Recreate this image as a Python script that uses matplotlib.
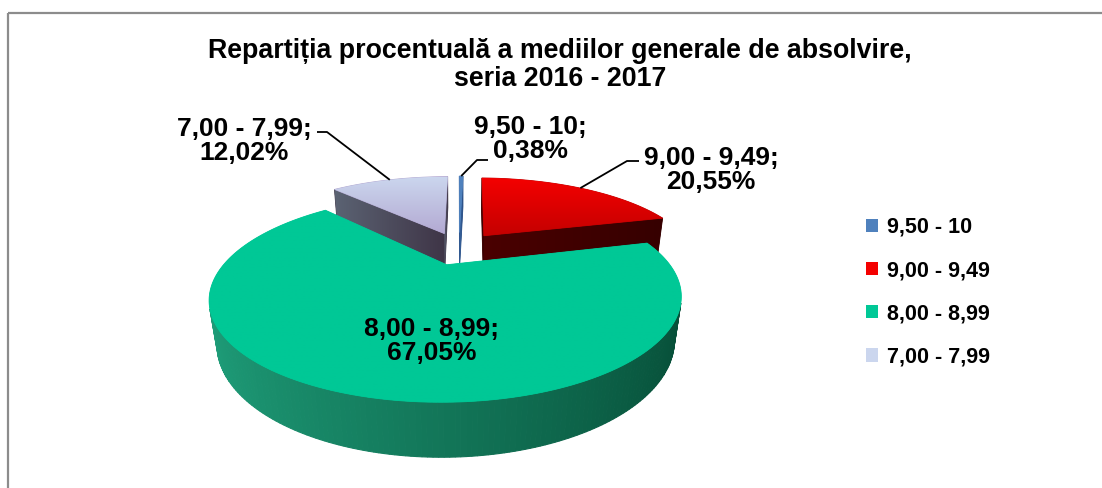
"""
Repartitia mediilor de absolvire - 3D exploded pie, redrawn with matplotlib.
"""
import numpy as np
import matplotlib.pyplot as plt
from matplotlib.patches import Polygon, Patch
from matplotlib.colors import LinearSegmentedColormap, to_rgb

plt.rcParams['font.family'] = ['Liberation Sans', 'DejaVu Sans']

# ===================
#  DATA
# ===================
ranges    = ["9,50 - 10", "9,00 - 9,49", "8,00 - 8,99", "7,00 - 7,99"]
shares    = [0.38, 20.55, 67.05, 12.02]
share_txt = ["0,38%", "20,55%", "67,05%", "12,02%"]
title     = "Repartiția procentuală a mediilor generale de absolvire,\nseria 2016 - 2017"

# top face colours (start / end of gradient), side colours (light / dark)
TOP   = ["#4F81BD", "#F40000", "#00C896", "#CBD6EE"]
TOP2  = ["#4F81BD", "#C40000", "#00C896", "#B3A9D2"]
SIDE  = ["#3A66A0", "#4A0000", "#1FA07B", "#5B6373"]
SIDE2 = ["#2A4F86", "#360000", "#064C36", "#3F3547"]

# ===================
#  3D PROJECTION
# ===================
W, H = 1102, 488
TILT = np.radians(23)
DIST = 3.0          # camera distance, in pie radii
FOC = 630.0
CX, CY = 459.0, 248.0
EXPLODE = 0.2
THICK = 0.21
SN, CS = np.sin(TILT), np.cos(TILT)
CAM = np.array([0.0, DIST * SN, -DIST * CS])


def proj(x, z, y=0.0):
    d = DIST - y * SN + z * CS
    return CX + FOC * x / d, CY - FOC * (y * CS + z * SN) / d


def grad_poly(ax, pts, c1, c2, vertical, z):
    pts = np.asarray(pts)
    x0, y0 = pts.min(0)
    x1, y1 = pts.max(0)
    poly = Polygon(pts, closed=True, fc=c2, ec=c2, lw=0.6, zorder=z)
    ax.add_patch(poly)
    if x1 - x0 < 2 or y1 - y0 < 2:
        return
    cmap = LinearSegmentedColormap.from_list("g", [c1, c2])
    g = np.linspace(0, 1, 256)
    img = g[:, None] if vertical else g[None, :]
    im = ax.imshow(img, cmap=cmap, extent=(x0, x1, y1, y0), origin="upper",
                   aspect="auto", zorder=z + 0.1, interpolation="bilinear")
    im.set_clip_path(poly)


def mix(c1, c2, u):
    a, b = np.array(to_rgb(c1)), np.array(to_rgb(c2))
    return tuple(a + (b - a) * u)


fig = plt.figure(figsize=(W / 100, H / 100), dpi=100)
ax = fig.add_axes([0, 0, 1, 1])

frac = np.array(shares) / sum(shares)
a1 = np.cumsum(frac) * 2 * np.pi      # clockwise from 12 o'clock
a0 = a1 - frac * 2 * np.pi
mid = (a0 + a1) / 2
off = [(EXPLODE * np.sin(m), EXPLODE * np.cos(m)) for m in mid]

# back slices first
order = sorted(range(len(shares)), key=lambda i: -(off[i][1] + np.cos(mid[i])))

zo = 1
for i in order:
    ox, oz = off[i]
    n = max(2, int(np.degrees(a1[i] - a0[i])))
    t = np.linspace(a0[i], a1[i], n + 1)
    rx, rz = ox + np.sin(t), oz + np.cos(t)

    # radial cut faces
    for a, nrm in ((a0[i], (-np.cos(a0[i]), np.sin(a0[i]))),
                   (a1[i], (np.cos(a1[i]), -np.sin(a1[i])))):
        P = np.array([ox + 0.5 * np.sin(a), -THICK / 2, oz + 0.5 * np.cos(a)])
        v = CAM - P
        if v[0] * nrm[0] + v[2] * nrm[1] <= 0:
            continue
        ex, ez = ox + np.sin(a), oz + np.cos(a)
        quad = [proj(ox, oz), proj(ex, ez), proj(ex, ez, -THICK), proj(ox, oz, -THICK)]
        grad_poly(ax, quad, SIDE[i], SIDE2[i], False, zo)
        zo += 1

    # outer curved wall, front facing parts only
    for j in range(n):
        tm = (t[j] + t[j + 1]) / 2
        P = np.array([ox + np.sin(tm), -THICK / 2, oz + np.cos(tm)])
        v = CAM - P
        if v[0] * np.sin(tm) + v[2] * np.cos(tm) <= 0:
            continue
        quad = [proj(rx[j], rz[j]), proj(rx[j + 1], rz[j + 1]),
                proj(rx[j + 1], rz[j + 1], -THICK), proj(rx[j], rz[j], -THICK)]
        col = mix(SIDE[i], SIDE2[i], (1 + np.sin(tm)) / 2)
        ax.add_patch(Polygon(quad, closed=True, fc=col, ec=col, lw=0.8, zorder=zo))
    zo += 1

    # top face
    top = [proj(ox, oz)] + [proj(x, z) for x, z in zip(rx, rz)]
    grad_poly(ax, top, TOP[i], TOP2[i], True, zo)
    zo += 1

# ===================
#  LABELS
# ===================
lab_pos = {0: (530, 139), 1: (711, 170), 2: (432, 341), 3: (244, 141)}
elbow = {0: ((488, 160), (477, 160)),
         1: ((639, 161), (627, 161)),
         3: ((317, 132), (327, 132))}

for i in range(len(shares)):
    x, y = lab_pos[i]
    ax.text(x, y, f"{ranges[i]};\n{share_txt[i]}", ha="center", va="center",
            fontsize=19, fontweight="bold", linespacing=1.05, zorder=50)
    if i in elbow:
        ox, oz = off[i]
        tx, ty = proj(ox + np.sin(mid[i]), oz + np.cos(mid[i]))
        (e0x, e0y), (e1x, e1y) = elbow[i]
        ax.plot([e0x, e1x, tx], [e0y, e1y, ty], color="black", lw=1.3,
                zorder=50, solid_capstyle="butt")

ax.text(560, 65, title, ha="center", va="center", fontsize=19.3,
        fontweight="bold", linespacing=1.05)

handles = [Patch(fc=TOP[i], ec="none") for i in range(len(shares))]
ax.legend(handles, ranges, loc="upper left",
          bbox_to_anchor=(866 / W, 1 - 217 / H), frameon=False,
          prop=dict(weight="bold", size=15.5), handlelength=0.58,
          handleheight=0.58, handletextpad=0.38, labelspacing=1.03,
          borderaxespad=0, borderpad=0)

# chart frame (right and bottom edges fall outside the picture)
ax.plot([8, 8], [H, 12.5], color="#8C8C8C", lw=1.6, solid_capstyle="butt")
ax.plot([8, W], [12.5, 12.5], color="#8C8C8C", lw=1.6, solid_capstyle="butt")

ax.set_xlim(0, W)
ax.set_ylim(H, 0)
ax.axis("off")

fig.savefig("out.png", dpi=100)
print("Saved -> out.png")
